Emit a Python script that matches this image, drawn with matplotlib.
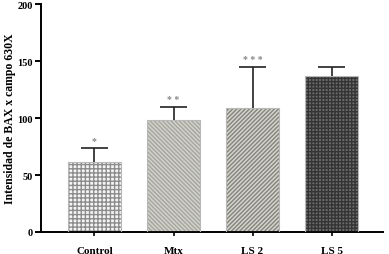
import numpy as np
import matplotlib.pyplot as plt

# Datos
grupos = ['Control', 'Mtx', 'LS 2', 'LS 5']
medias = [61, 98, 109, 137]
error_sup = [13, 12, 36, 8]
signif = ['*', '* *', '* * *', '']

colores = ['#f4f4f4', '#d2d2cb', '#d4d4cc', '#6c6c6c']
tramas = ['++++', '\\' * 8, '/' * 8, '+++++']
color_trama = ['#8c8c8c', '#a6a6a0', '#84847e', '#343434']

plt.rcParams['hatch.linewidth'] = 1.0
fuente = 'Liberation Serif'

fig = plt.figure(figsize=(3.89, 2.55), dpi=100)
ax = fig.add_axes([0.1054, 0.0863, 0.879, 0.894])

x = np.arange(len(grupos))
ancho_cap = 0.17
for i in range(len(grupos)):
    ax.bar(x[i], medias[i], width=0.67, color=colores[i], hatch=tramas[i],
           edgecolor=color_trama[i], linewidth=0, zorder=2)
    ax.bar(x[i], medias[i], width=0.67, fill=False, edgecolor='#b8b8b8',
           linewidth=0.8, zorder=3)
    tope = medias[i] + error_sup[i]
    ax.vlines(x[i], medias[i], tope, color='#222222', linewidth=1.2, zorder=4)
    ax.hlines(tope, x[i] - ancho_cap, x[i] + ancho_cap, color='#222222',
              linewidth=1.2, zorder=4)
    if signif[i]:
        ax.text(x[i], tope + 2, signif[i], ha='center', va='bottom',
                color='#888888', fontsize=7, family=fuente, fontweight='bold')

ax.set_xlim(-0.677, 3.65)
ax.set_ylim(0, 200)
ax.set_yticks([0, 50, 100, 150, 200])
ax.set_xticks(x)
ax.set_xticklabels(grupos, fontsize=8, family=fuente, fontweight='bold')
for lab in ax.get_yticklabels():
    lab.set_fontsize(7.5)
    lab.set_family(fuente)
    lab.set_fontweight('bold')
ax.set_ylabel('Intensidad de BAX x campo 630X', fontsize=8.5, family=fuente,
              fontweight='bold')
ax.yaxis.set_label_coords(-0.072, 0.5)

ax.spines['top'].set_visible(False)
ax.spines['right'].set_visible(False)
ax.spines['left'].set_linewidth(1.4)
ax.spines['bottom'].set_linewidth(1.4)
ax.tick_params(axis='y', length=4, width=1.4, pad=2)
ax.tick_params(axis='x', length=3, width=1.2, pad=7)

plt.savefig('out.png', dpi=100)
